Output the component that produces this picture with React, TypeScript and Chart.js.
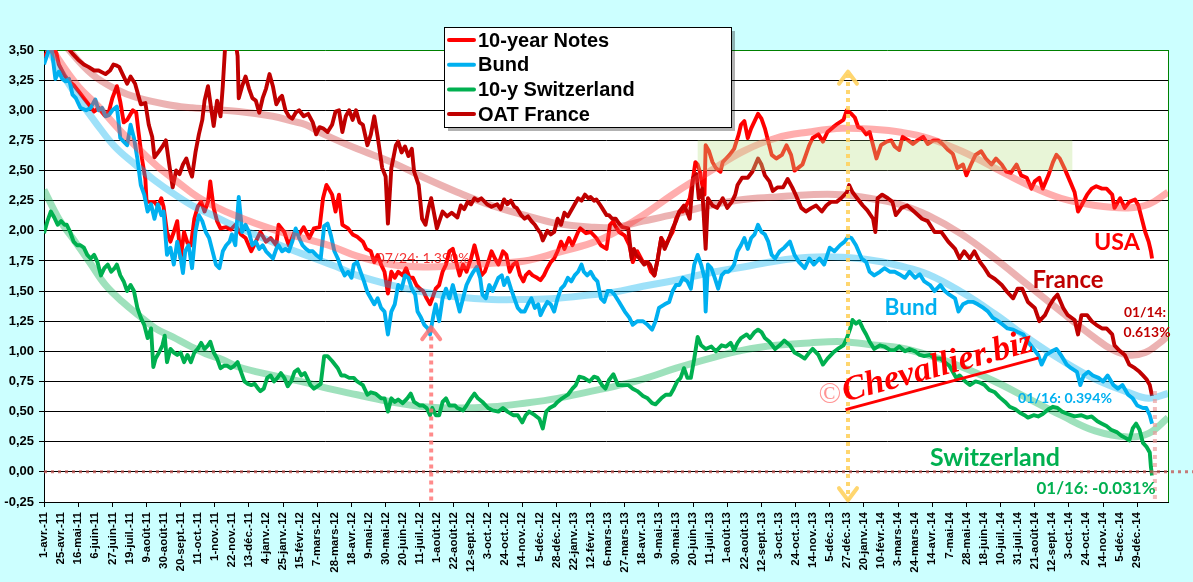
import React, { useEffect, useRef } from 'react';
import { Chart, registerables } from 'chart.js';

Chart.register(...registerables);

// ---- tick labels (one every 15 trading days, index 0 = 1 April 2011) ----
const tickLabels = ['1-avr.-11','25-avr.-11','16-mai-11','6-juin-11','27-juin-11','19-juil.-11','9-août-11','30-août-11','20-sept.-11','11-oct.-11','1-nov.-11','22-nov.-11','13-déc.-11','4-janv.-12','25-janv.-12','15-févr.-12','7-mars-12','28-mars-12','18-avr.-12','9-mai-12','30-mai-12','20-juin-12','11-juil.-12','1-août-12','22-août-12','12-sept.-12','3-oct.-12','24-oct.-12','14-nov.-12','5-déc.-12','28-déc.-12','22-janv.-13','12-févr.-13','6-mars-13','27-mars-13','18-avr.-13','9-mai-13','30-mai-13','20-juin-13','11-juil.-13','1-août-13','22-août-13','12-sept.-13','3-oct.-13','24-oct.-13','14-nov.-13','5-déc.-13','27-déc.-13','20-janv.-14','10-févr.-14','3-mars-14','24-mars-14','14-avr.-14','7-mai-14','28-mai-14','18-juin-14','10-juil.-14','31-juil.-14','21-août-14','12-sept.-14','3-oct.-14','24-oct.-14','14-nov.-14','5-déc.-14','29-déc.-14'];
const yTicks = [-0.25, 0, 0.25, 0.5, 0.75, 1, 1.25, 1.5, 1.75, 2, 2.25, 2.5, 2.75, 3, 3.25, 3.5];

// ---- series: [trading-day index, yield %] ----
const usaSeries = [[0,3.44],[4,3.5],[8,3.53],[11,3.47],[13,3.38],[18,3.29],[22,3.24],[26,3.21],[31,3.15],[35,3.1],[40,3.04],[44,2.99],[48,3.02],[53,2.96],[57,2.99],[60,3.1],[64,3.2],[67,3.07],[70,2.9],[73,2.92],[78,3.0],[81,2.98],[83,2.82],[86,2.6],[89,2.43],[90,2.25],[92,2.24],[97,2.24],[100,2.2],[103,2.27],[105,2.2],[108,1.99],[111,1.91],[114,1.99],[117,2.08],[120,1.77],[123,1.99],[126,1.9],[129,1.88],[132,2.1],[135,2.2],[138,2.24],[141,2.16],[144,2.24],[146,2.41],[149,2.19],[152,2.08],[155,2.02],[160,2.03],[164,2.01],[168,2.05],[173,1.97],[177,1.94],[182,1.83],[186,1.91],[190,1.99],[195,1.91],[199,1.94],[204,1.88],[206,2.05],[211,1.99],[215,1.88],[220,1.99],[224,1.97],[228,2.03],[233,1.94],[237,2.02],[242,2.03],[245,2.27],[248,2.38],[250,2.35],[253,2.3],[256,2.16],[259,2.3],[262,2.05],[267,2.02],[271,1.97],[275,1.95],[280,1.91],[283,1.85],[287,1.83],[290,1.74],[293,1.8],[296,1.72],[299,1.66],[302,1.48],[305,1.66],[308,1.61],[311,1.66],[315,1.63],[318,1.69],[321,1.61],[324,1.61],[327,1.55],[330,1.52],[333,1.5],[336,1.44],[339,1.39],[341,1.44],[344,1.52],[347,1.55],[350,1.66],[353,1.72],[356,1.83],[359,1.85],[362,1.74],[365,1.63],[368,1.72],[371,1.66],[375,1.77],[378,1.88],[381,1.77],[384,1.63],[387,1.66],[390,1.74],[393,1.83],[396,1.77],[399,1.72],[403,1.83],[406,1.8],[409,1.66],[412,1.72],[415,1.74],[418,1.63],[421,1.58],[423,1.63],[426,1.66],[429,1.63],[433,1.61],[436,1.59],[439,1.63],[442,1.69],[445,1.74],[448,1.77],[451,1.83],[454,1.91],[457,1.85],[461,1.94],[464,1.88],[469,1.99],[471,2.02],[476,1.98],[480,1.99],[485,1.94],[489,1.88],[494,1.85],[497,2.05],[500,2.08],[501,2.05],[505,1.99],[510,1.96],[514,1.88],[517,1.74],[521,1.83],[526,1.74],[530,1.74],[533,1.66],[536,1.63],[539,1.77],[542,1.94],[546,1.88],[549,1.94],[552,1.99],[555,2.1],[558,2.16],[561,2.16],[564,2.21],[567,2.27],[570,2.44],[572,2.57],[574,2.55],[576,2.49],[578,2.38],[580,2.3],[581,2.71],[584,2.66],[587,2.57],[590,2.52],[594,2.49],[596,2.57],[599,2.6],[602,2.63],[606,2.68],[610,2.8],[612,2.88],[615,2.91],[618,2.77],[621,2.85],[624,2.91],[627,2.97],[630,2.93],[633,2.85],[636,2.74],[639,2.63],[643,2.6],[648,2.63],[652,2.71],[656,2.63],[659,2.5],[662,2.52],[666,2.55],[669,2.63],[672,2.71],[675,2.77],[680,2.8],[684,2.74],[688,2.82],[693,2.86],[697,2.89],[702,2.92],[705,3.0],[709,2.97],[712,2.94],[715,2.86],[718,2.85],[722,2.8],[725,2.82],[728,2.71],[731,2.6],[735,2.71],[740,2.74],[744,2.75],[747,2.7],[751,2.67],[754,2.78],[759,2.75],[763,2.72],[767,2.75],[772,2.78],[776,2.72],[781,2.75],[785,2.75],[789,2.72],[794,2.67],[798,2.64],[802,2.52],[807,2.55],[810,2.46],[814,2.55],[818,2.63],[823,2.66],[827,2.6],[832,2.55],[836,2.6],[841,2.55],[845,2.49],[849,2.48],[854,2.55],[858,2.46],[863,2.44],[867,2.35],[870,2.41],[874,2.44],[877,2.35],[882,2.46],[886,2.57],[889,2.63],[892,2.6],[896,2.52],[901,2.41],[905,2.32],[908,2.16],[911,2.21],[916,2.3],[920,2.35],[924,2.37],[929,2.35],[933,2.35],[938,2.3],[940,2.19],[945,2.27],[949,2.19],[953,2.24],[958,2.26],[961,2.21],[964,2.1],[967,1.99],[970,1.91],[972,1.83],[973,1.77]];

const bundSeries = [[0,3.38],[4,3.49],[7,3.49],[10,3.26],[13,3.32],[16,3.26],[19,3.24],[22,3.26],[25,3.13],[28,3.1],[32,3.02],[37,3.0],[41,3.02],[45,3.09],[48,3.0],[51,3.02],[54,2.95],[57,2.96],[60,3.0],[64,3.03],[67,2.77],[70,2.74],[73,2.71],[76,2.88],[79,2.77],[82,2.6],[85,2.38],[88,2.3],[91,2.16],[94,2.22],[97,2.1],[100,2.22],[103,2.13],[105,2.16],[108,1.8],[111,1.86],[114,1.72],[117,1.91],[120,1.77],[122,1.65],[124,1.83],[127,1.88],[130,1.69],[133,1.99],[136,2.13],[139,2.08],[142,1.99],[145,1.94],[148,1.83],[151,1.72],[154,1.69],[157,1.83],[160,1.88],[163,1.91],[165,1.97],[168,1.88],[171,2.28],[174,1.99],[177,2.05],[180,1.99],[183,1.88],[186,1.91],[189,1.85],[192,1.88],[195,1.83],[198,1.8],[201,1.77],[204,1.85],[206,1.88],[209,1.83],[212,1.85],[215,1.83],[218,1.91],[221,2.02],[224,1.94],[227,1.88],[230,1.85],[233,1.83],[236,1.83],[239,1.8],[243,1.77],[246,2.04],[249,2.06],[252,1.96],[255,1.83],[258,1.77],[261,1.69],[264,1.63],[267,1.66],[270,1.61],[272,1.72],[275,1.74],[278,1.66],[281,1.58],[284,1.49],[287,1.44],[290,1.39],[293,1.44],[296,1.36],[299,1.33],[302,1.14],[305,1.33],[308,1.39],[311,1.55],[314,1.52],[317,1.63],[320,1.61],[323,1.52],[326,1.47],[328,1.33],[331,1.28],[334,1.22],[337,1.19],[339,1.14],[342,1.3],[344,1.39],[347,1.25],[350,1.44],[353,1.52],[356,1.44],[359,1.55],[362,1.44],[365,1.33],[368,1.44],[371,1.55],[374,1.61],[377,1.66],[380,1.7],[383,1.61],[385,1.47],[388,1.44],[391,1.55],[394,1.5],[399,1.61],[402,1.63],[404,1.55],[407,1.61],[410,1.52],[413,1.44],[416,1.36],[419,1.33],[422,1.33],[425,1.39],[428,1.44],[431,1.36],[434,1.39],[436,1.3],[439,1.36],[442,1.41],[445,1.39],[448,1.33],[451,1.44],[454,1.52],[457,1.55],[460,1.61],[463,1.58],[466,1.63],[469,1.66],[472,1.72],[474,1.66],[477,1.63],[480,1.66],[483,1.61],[486,1.58],[489,1.44],[492,1.41],[495,1.5],[498,1.5],[501,1.47],[505,1.41],[510,1.33],[514,1.28],[517,1.22],[521,1.25],[526,1.25],[530,1.22],[534,1.18],[537,1.25],[540,1.36],[545,1.39],[549,1.41],[552,1.5],[555,1.55],[558,1.55],[561,1.61],[565,1.58],[568,1.52],[571,1.72],[574,1.8],[577,1.72],[580,1.61],[581,1.33],[583,1.72],[586,1.69],[589,1.61],[592,1.52],[595,1.63],[598,1.66],[601,1.66],[604,1.69],[606,1.72],[609,1.83],[612,1.88],[615,1.94],[618,1.85],[621,1.94],[624,1.97],[627,2.05],[630,1.99],[633,1.97],[636,1.91],[639,1.8],[642,1.77],[646,1.83],[650,1.86],[655,1.91],[659,1.8],[663,1.74],[668,1.69],[672,1.77],[676,1.72],[681,1.77],[685,1.72],[690,1.86],[694,1.83],[699,1.88],[703,1.91],[706,1.95],[709,1.94],[713,1.88],[718,1.77],[722,1.74],[725,1.66],[729,1.63],[734,1.66],[738,1.69],[743,1.66],[747,1.66],[751,1.64],[756,1.61],[760,1.66],[765,1.61],[769,1.64],[773,1.58],[778,1.55],[782,1.5],[787,1.55],[791,1.5],[795,1.47],[800,1.44],[803,1.33],[807,1.39],[811,1.41],[816,1.41],[820,1.39],[825,1.36],[829,1.33],[833,1.28],[838,1.25],[842,1.22],[846,1.19],[851,1.18],[855,1.16],[860,1.14],[864,1.08],[869,1.02],[873,0.97],[876,0.89],[880,0.97],[885,1.0],[889,1.02],[893,0.97],[898,0.89],[902,0.86],[907,0.83],[910,0.72],[913,0.8],[917,0.83],[921,0.8],[926,0.78],[930,0.75],[934,0.8],[939,0.72],[943,0.69],[947,0.72],[952,0.64],[956,0.61],[960,0.55],[965,0.53],[968,0.53],[971,0.47],[973,0.4]];

const swissSeries = [[0,1.98],[3,2.08],[6,2.16],[9,2.11],[12,2.05],[15,2.08],[18,2.05],[20,2.05],[23,1.99],[26,1.91],[29,1.88],[32,1.88],[35,1.86],[38,1.8],[41,1.77],[44,1.8],[47,1.74],[50,1.63],[53,1.69],[56,1.72],[59,1.66],[62,1.69],[64,1.72],[67,1.63],[70,1.58],[73,1.5],[76,1.55],[79,1.5],[82,1.36],[85,1.28],[88,1.22],[91,1.11],[94,1.19],[96,0.87],[98,0.94],[101,0.99],[104,1.05],[106,1.13],[108,0.91],[111,1.02],[114,0.99],[117,0.97],[120,0.99],[123,0.91],[126,0.97],[129,0.91],[132,0.99],[135,1.02],[138,1.07],[141,1.02],[144,1.05],[146,1.08],[149,0.99],[152,0.94],[155,0.86],[158,0.88],[161,0.88],[164,0.86],[167,0.88],[170,0.91],[173,0.83],[176,0.75],[179,0.73],[182,0.72],[185,0.73],[188,0.69],[190,0.67],[193,0.69],[196,0.78],[199,0.8],[202,0.75],[205,0.78],[208,0.82],[211,0.78],[214,0.71],[217,0.75],[220,0.83],[223,0.85],[226,0.8],[229,0.82],[231,0.78],[234,0.72],[237,0.69],[240,0.71],[243,0.73],[246,0.96],[249,0.96],[253,0.92],[258,0.86],[261,0.8],[264,0.8],[268,0.78],[272,0.78],[275,0.75],[280,0.72],[284,0.64],[287,0.66],[291,0.65],[296,0.61],[299,0.61],[302,0.5],[305,0.61],[308,0.58],[311,0.6],[315,0.57],[319,0.61],[322,0.65],[325,0.58],[330,0.55],[333,0.55],[336,0.53],[339,0.47],[341,0.53],[344,0.47],[347,0.47],[350,0.58],[353,0.61],[356,0.55],[361,0.55],[363,0.53],[368,0.51],[371,0.55],[375,0.61],[378,0.65],[381,0.61],[385,0.58],[390,0.53],[394,0.51],[399,0.5],[403,0.53],[407,0.5],[412,0.47],[416,0.47],[420,0.41],[423,0.47],[426,0.5],[431,0.47],[435,0.44],[438,0.36],[441,0.5],[444,0.53],[448,0.55],[451,0.58],[455,0.61],[460,0.64],[464,0.69],[467,0.72],[470,0.79],[474,0.78],[479,0.75],[483,0.79],[486,0.78],[490,0.72],[493,0.69],[496,0.76],[500,0.81],[504,0.72],[508,0.72],[513,0.72],[517,0.69],[521,0.67],[526,0.63],[530,0.61],[534,0.57],[537,0.56],[542,0.61],[546,0.64],[550,0.64],[553,0.69],[556,0.75],[559,0.78],[562,0.86],[565,0.78],[568,0.78],[571,0.94],[574,1.12],[577,1.05],[581,1.02],[586,1.04],[590,1.0],[595,1.05],[599,1.04],[603,1.07],[606,1.01],[609,1.07],[612,1.11],[617,1.14],[620,1.11],[624,1.16],[627,1.18],[630,1.16],[633,1.11],[637,1.08],[642,1.02],[646,1.05],[650,1.09],[655,1.05],[659,0.99],[663,0.97],[668,0.94],[672,0.99],[675,1.02],[680,0.97],[684,0.89],[688,0.94],[693,0.99],[697,1.02],[702,1.05],[705,1.11],[708,1.19],[710,1.26],[713,1.23],[716,1.25],[719,1.19],[722,1.14],[725,1.08],[729,1.02],[734,1.05],[738,1.04],[743,1.01],[747,1.01],[751,1.04],[756,1.0],[760,1.02],[765,1.0],[769,0.97],[773,0.96],[778,0.97],[782,0.94],[787,0.94],[791,0.91],[795,0.88],[798,0.83],[801,0.78],[804,0.8],[809,0.75],[813,0.72],[818,0.75],[822,0.74],[826,0.72],[830,0.68],[835,0.66],[839,0.62],[844,0.58],[848,0.54],[853,0.52],[857,0.49],[861,0.47],[864,0.45],[869,0.47],[873,0.46],[877,0.48],[882,0.52],[886,0.54],[890,0.53],[894,0.5],[899,0.48],[905,0.46],[911,0.47],[916,0.45],[920,0.46],[925,0.42],[929,0.4],[933,0.38],[937,0.35],[942,0.33],[946,0.3],[950,0.28],[953,0.26],[956,0.36],[959,0.4],[962,0.35],[965,0.24],[968,0.21],[971,0.16],[972,0.04],[973,-0.031]];

const oatSeries = [[0,3.62],[5,3.66],[10,3.62],[15,3.6],[20,3.53],[25,3.47],[30,3.42],[35,3.38],[39,3.36],[44,3.33],[48,3.33],[54,3.3],[58,3.33],[61,3.38],[64,3.37],[66,3.36],[69,3.3],[73,3.22],[76,3.28],[80,3.22],[85,3.05],[89,3.06],[92,2.88],[95,2.78],[97,2.61],[101,2.66],[104,2.7],[107,2.75],[110,2.55],[113,2.36],[116,2.5],[119,2.47],[122,2.55],[125,2.6],[128,2.5],[130,2.45],[133,2.65],[136,2.8],[139,2.92],[141,3.08],[144,3.2],[147,3.0],[149,2.87],[152,3.08],[155,2.95],[157,3.2],[159,3.52],[162,3.6],[165,3.55],[168,3.58],[170,3.45],[171,3.1],[174,3.2],[177,3.28],[180,3.18],[183,3.1],[186,3.08],[189,2.98],[192,3.1],[195,3.18],[198,3.3],[201,3.2],[204,3.05],[207,3.1],[209,3.12],[212,3.0],[215,2.95],[218,2.93],[221,2.98],[224,3.0],[228,2.95],[232,2.97],[236,2.9],[239,2.8],[242,2.86],[245,2.85],[249,2.82],[253,2.88],[256,2.99],[259,3.0],[262,2.82],[265,2.95],[268,3.0],[271,2.92],[274,3.0],[277,2.9],[280,2.88],[284,2.71],[287,2.8],[290,2.95],[293,2.78],[297,2.52],[300,2.45],[302,2.06],[305,2.52],[309,2.71],[311,2.74],[314,2.65],[317,2.7],[320,2.62],[323,2.68],[325,2.49],[329,2.38],[332,2.1],[335,2.05],[338,2.2],[340,2.27],[343,2.12],[345,2.02],[350,2.16],[354,2.12],[358,2.15],[363,2.11],[366,2.21],[369,2.18],[372,2.24],[375,2.22],[378,2.27],[381,2.25],[384,2.27],[389,2.22],[393,2.2],[398,2.22],[401,2.18],[404,2.26],[407,2.22],[410,2.25],[413,2.2],[415,2.19],[419,2.13],[422,2.1],[425,2.12],[428,2.08],[431,2.05],[433,2.02],[436,1.98],[438,1.92],[442,2.0],[445,1.97],[448,1.99],[451,2.1],[454,2.05],[457,2.15],[460,2.12],[463,2.17],[466,2.22],[469,2.27],[472,2.25],[475,2.3],[478,2.27],[480,2.28],[483,2.25],[485,2.26],[488,2.22],[490,2.19],[494,2.13],[496,2.13],[499,2.1],[502,2.1],[505,2.06],[508,2.03],[513,2.02],[516,1.77],[518,1.85],[520,1.8],[523,1.77],[527,1.72],[530,1.74],[532,1.72],[536,1.63],[539,1.77],[542,1.94],[545,1.85],[549,1.94],[552,2.02],[555,2.08],[558,2.16],[562,2.21],[565,2.15],[567,2.1],[570,2.44],[573,2.47],[575,2.27],[578,2.35],[581,1.85],[583,2.27],[587,2.21],[591,2.19],[596,2.27],[600,2.19],[604,2.24],[607,2.3],[609,2.38],[613,2.44],[618,2.44],[622,2.49],[627,2.6],[630,2.55],[633,2.46],[637,2.41],[640,2.33],[644,2.36],[649,2.36],[653,2.43],[657,2.36],[660,2.3],[665,2.19],[669,2.16],[674,2.19],[678,2.21],[683,2.16],[687,2.21],[691,2.24],[696,2.24],[700,2.27],[705,2.32],[707,2.38],[710,2.32],[714,2.27],[719,2.21],[723,2.17],[728,2.1],[730,1.99],[732,2.27],[736,2.3],[741,2.27],[745,2.24],[748,2.13],[753,2.19],[758,2.21],[764,2.16],[771,2.1],[776,2.08],[782,1.99],[788,1.99],[794,1.91],[800,1.85],[804,1.77],[808,1.83],[813,1.77],[817,1.83],[822,1.74],[826,1.69],[830,1.63],[835,1.6],[841,1.55],[846,1.49],[851,1.44],[855,1.52],[859,1.52],[864,1.41],[870,1.36],[874,1.25],[879,1.3],[883,1.38],[887,1.44],[890,1.47],[895,1.36],[899,1.3],[905,1.26],[908,1.14],[911,1.3],[916,1.3],[920,1.25],[924,1.22],[929,1.19],[933,1.19],[938,1.14],[940,1.05],[945,1.0],[949,0.97],[953,0.89],[958,0.86],[962,0.83],[965,0.8],[968,0.77],[971,0.72],[973,0.63]];

// ---- polynomial trend lines ----
const usaTrend = [[0,3.62],[13,3.42],[30,3.2],[48,3.03],[65,2.85],[83,2.68],[100,2.53],[118,2.4],[135,2.28],[155,2.18],[175,2.1],[195,2.03],[215,1.97],[235,1.92],[253,1.87],[275,1.79],[305,1.72],[334,1.7],[363,1.71],[393,1.73],[422,1.75],[451,1.82],[481,1.9],[500,1.98],[526,2.13],[555,2.32],[584,2.49],[614,2.66],[643,2.77],[672,2.82],[701,2.85],[731,2.84],[751,2.82],[776,2.77],[806,2.66],[835,2.52],[864,2.38],[893,2.27],[923,2.21],[952,2.19],[970,2.22],[987,2.32]];
const bundTrend = [[0,3.58],[13,3.35],[30,3.1],[46,2.89],[62,2.7],[80,2.55],[97,2.42],[115,2.3],[132,2.2],[150,2.12],[165,2.05],[185,1.97],[210,1.87],[235,1.78],[260,1.69],[275,1.63],[305,1.55],[334,1.49],[363,1.45],[393,1.43],[422,1.43],[451,1.44],[481,1.47],[500,1.49],[526,1.54],[555,1.59],[584,1.65],[614,1.7],[643,1.75],[672,1.78],[701,1.78],[731,1.75],[751,1.71],[776,1.64],[806,1.49],[835,1.31],[864,1.11],[893,0.93],[923,0.77],[952,0.66],[970,0.61],[987,0.65]];
const swissTrend = [[0,2.34],[13,2.1],[25,1.94],[40,1.74],[54,1.55],[69,1.41],[83,1.3],[98,1.19],[113,1.12],[127,1.05],[142,0.98],[157,0.93],[171,0.87],[201,0.8],[230,0.74],[250,0.69],[275,0.64],[305,0.58],[334,0.54],[363,0.53],[393,0.54],[422,0.57],[451,0.61],[481,0.67],[501,0.71],[526,0.77],[555,0.86],[584,0.94],[614,1.01],[643,1.05],[672,1.07],[701,1.08],[731,1.05],[751,1.03],[776,0.97],[806,0.87],[835,0.75],[864,0.61],[893,0.47],[923,0.34],[952,0.29],[970,0.32],[987,0.45]];
const oatTrend = [[0,3.75],[22,3.5],[42,3.3],[62,3.18],[83,3.1],[113,3.04],[130,3.02],[171,2.99],[201,2.95],[218,2.91],[230,2.88],[246,2.8],[275,2.68],[305,2.57],[334,2.44],[363,2.32],[393,2.21],[422,2.13],[451,2.06],[481,2.03],[501,2.03],[526,2.08],[555,2.14],[584,2.21],[614,2.26],[643,2.28],[672,2.3],[701,2.3],[731,2.26],[751,2.22],[776,2.13],[806,1.97],[835,1.77],[864,1.55],[893,1.33],[923,1.11],[937,1.02],[952,0.97],[967,0.99],[981,1.08],[987,1.13]];

const X_MAX = 987;
const AXIS_FONT = '"Liberation Sans", Arial, sans-serif';
const NOTE_FONT = 'Lato, "Noto Sans", sans-serif';

const toXY = (arr: number[][]) => arr.map(([x, y]) => ({ x, y }));

function fitText(ctx: any, text: string, cx: number, cy: number, width: number, color: string, weight = 'bold', family = NOTE_FONT, style = '') {
  ctx.font = `${style} ${weight} 100px ${family}`;
  const w = ctx.measureText(text).width || 1;
  const size = (100 * width) / w;
  ctx.font = `${style} ${weight} ${size}px ${family}`;
  ctx.fillStyle = color;
  ctx.textAlign = 'center';
  ctx.textBaseline = 'middle';
  ctx.fillText(text, cx, cy);
}

function dotted(ctx: any, x1: number, y1: number, x2: number, y2: number, color: string, width: number, dash: number[]) {
  ctx.save();
  ctx.strokeStyle = color;
  ctx.lineWidth = width;
  ctx.setLineDash(dash);
  ctx.beginPath();
  ctx.moveTo(x1, y1);
  ctx.lineTo(x2, y2);
  ctx.stroke();
  ctx.restore();
}

function chevron(ctx: any, x: number, tipY: number, dir: number, color: string) {
  // dir = 1 : pointing up, dir = -1 : pointing down
  ctx.save();
  ctx.strokeStyle = color;
  ctx.lineWidth = 4;
  ctx.lineCap = 'round';
  ctx.lineJoin = 'round';
  ctx.beginPath();
  ctx.moveTo(x - 9, tipY + dir * 12);
  ctx.lineTo(x, tipY);
  ctx.lineTo(x + 9, tipY + dir * 12);
  ctx.stroke();
  ctx.restore();
}

export default function App() {
  const ref = useRef<HTMLCanvasElement>(null);

  useEffect(() => {
    document.body.style.margin = '0';
    const canvas = ref.current;
    if (!canvas) return;

    const bgPlugin = {
      id: 'bgPlugin',
      beforeDraw(chart: any) {
        const { ctx, chartArea: a } = chart;
        ctx.save();
        ctx.fillStyle = '#CCFFFF';
        ctx.fillRect(0, 0, chart.width, chart.height);
        ctx.fillStyle = '#FFFFFF';
        ctx.fillRect(a.left, a.top, a.right - a.left, a.bottom - a.top);
        ctx.restore();
      },
      beforeDatasetsDraw(chart: any) {
        const { ctx, scales } = chart;
        const px = (i: number) => scales.x.getPixelForValue(i);
        const py = (v: number) => scales.y.getPixelForValue(v);
        ctx.save();
        fitText(ctx, '07/24: 1.390%', px(332.8), py(1.774), 93, 'rgba(240,0,0,0.8)', 'normal');
        ctx.restore();
      },
      afterDatasetsDraw(chart: any) {
        const { ctx, scales, chartArea: a } = chart;
        const px = (i: number) => scales.x.getPixelForValue(i);
        const py = (v: number) => scales.y.getPixelForValue(v);
        ctx.save();
        // shaded band
        ctx.fillStyle = 'rgba(190,225,140,0.35)';
        ctx.fillRect(px(574), py(2.75), px(903) - px(574), py(2.5) - py(2.75));
        // right border
        ctx.strokeStyle = '#008000';
        ctx.lineWidth = 1;
        ctx.beginPath();
        ctx.moveTo(Math.round(a.right) + 0.5, a.top);
        ctx.lineTo(Math.round(a.right) + 0.5, a.bottom);
        ctx.stroke();
        // zero line
        dotted(ctx, a.left, py(0), chart.width, py(0), 'rgba(192,80,77,0.75)', 3, [3, 4]);
        // yellow double arrow
        const yx = px(706);
        dotted(ctx, yx, py(3.3), yx, py(-0.24), 'rgba(255,210,95,0.9)', 4, [4, 4]);
        chevron(ctx, yx, py(3.32), 1, 'rgba(255,210,95,0.9)');
        chevron(ctx, yx, py(-0.235), -1, 'rgba(255,210,95,0.9)');
        // pink arrow at 07/24
        const rx = px(340);
        dotted(ctx, rx, py(1.19), rx, a.bottom, 'rgba(255,110,110,0.8)', 4, [4, 4]);
        chevron(ctx, rx, py(1.2), 1, 'rgba(255,110,110,0.8)');
        // end marker
        dotted(ctx, px(975.5), py(0.67), px(975.5), a.bottom, 'rgba(235,150,150,0.65)', 4, [4, 4]);
        // labels
        fitText(ctx, 'USA', px(942.2), py(1.899), 46, '#FF0000');
        fitText(ctx, 'France', px(899.2), py(1.592), 71, '#C00000');
        fitText(ctx, 'Bund', px(761.3), py(1.359), 53, '#00B0F0');
        fitText(ctx, 'Switzerland', px(835.1), py(0.115), 130, '#00B050');
        fitText(ctx, '01/14:', px(966.8), py(1.318), 42, '#C00000');
        fitText(ctx, '0.613%', px(968.6), py(1.152), 47, '#C00000');
        fitText(ctx, '01/16: 0.394%', px(896.6), py(0.613), 94, '#00B0F0');
        fitText(ctx, '01/16: -0.031%', px(923.8), py(-0.142), 119, '#00B050');
        // watermark
        ctx.save();
        ctx.translate(px(786.8), py(0.795));
        ctx.rotate((-15 * Math.PI) / 180);
        ctx.font = 'italic bold 100px "Liberation Serif", "DejaVu Serif", serif';
        const ww = ctx.measureText('Chevallier.biz').width || 1;
        const fs = (100 * 196) / ww;
        ctx.font = `italic bold ${fs}px "Liberation Serif", "DejaVu Serif", serif`;
        ctx.fillStyle = '#FF0000';
        ctx.textAlign = 'center';
        ctx.textBaseline = 'alphabetic';
        ctx.fillText('Chevallier.biz', 0, 0);
        ctx.strokeStyle = '#FF0000';
        ctx.lineWidth = 3;
        ctx.beginPath();
        ctx.moveTo(-100, 8);
        ctx.lineTo(100, 8);
        ctx.stroke();
        ctx.restore();
        ctx.font = '30px "Liberation Serif", serif';
        ctx.fillStyle = 'rgba(255,60,60,0.55)';
        ctx.textAlign = 'center';
        ctx.textBaseline = 'middle';
        ctx.fillText('©', px(690), py(0.64));
        ctx.restore();
      },
      afterDraw(chart: any) {
        const ctx = chart.ctx;
        const bx = 444, by = 27, bw = 287, bh = 100;
        ctx.save();
        ctx.fillStyle = 'rgba(0,0,0,0.3)';
        ctx.fillRect(bx + 4, by + 4, bw, bh);
        ctx.fillStyle = '#FFFFFF';
        ctx.fillRect(bx, by, bw, bh);
        ctx.strokeStyle = '#000000';
        ctx.lineWidth = 1;
        ctx.strokeRect(bx + 0.5, by + 0.5, bw, bh);
        const items = chart.data.datasets.filter((d: any) => d.inLegend).sort((p: any, q: any) => p.legendRank - q.legendRank);
        ctx.font = `bold 20px ${AXIS_FONT}`;
        ctx.textAlign = 'left';
        ctx.textBaseline = 'middle';
        items.forEach((d: any, k: number) => {
          const y = by + 13 + k * 24.7;
          ctx.strokeStyle = d.borderColor;
          ctx.lineWidth = 4;
          ctx.lineCap = 'round';
          ctx.beginPath();
          ctx.moveTo(bx + 5, y);
          ctx.lineTo(bx + 30, y);
          ctx.stroke();
          ctx.fillStyle = '#000000';
          ctx.fillText(d.label, bx + 34, y + 1);
        });
        ctx.restore();
      },
    };

    const mainLine = (label: string, data: number[][], color: string, order: number, rank: number) => ({
      label, data: toXY(data), borderColor: color, borderWidth: 3.9, pointRadius: 0,
      tension: 0, order, clip: 0, inLegend: true, legendRank: rank, borderJoinStyle: 'round',
    });
    const trendLine = (data: number[][], color: string) => ({
      label: '', data: toXY(data), borderColor: color, borderWidth: 7, pointRadius: 0,
      tension: 0.4, order: 0, clip: 0, inLegend: false,
    });

    const chart = new Chart(canvas, {
      type: 'line',
      data: {
        datasets: [
          trendLine(usaTrend, 'rgba(255,60,60,0.42)'),
          trendLine(bundTrend, 'rgba(0,176,240,0.38)'),
          trendLine(swissTrend, 'rgba(0,176,80,0.38)'),
          trendLine(oatTrend, 'rgba(192,0,0,0.3)'),
          mainLine('OAT France', oatSeries, '#C00000', 1, 3),
          mainLine('10-y Switzerland', swissSeries, '#00B050', 2, 2),
          mainLine('Bund', bundSeries, '#00B0F0', 3, 1),
          mainLine('10-year Notes', usaSeries, '#FF0000', 4, 0),
        ] as any,
      },
      options: {
        animation: false,
        responsive: false,
        maintainAspectRatio: false,
        events: [],
        parsing: true,
        layout: { padding: { top: 50, right: 25, left: 0, bottom: 0 } },
        plugins: { legend: { display: false }, tooltip: { enabled: false } },
        scales: {
          x: {
            type: 'linear',
            min: 0,
            max: X_MAX,
            afterFit: (s: any) => { s.height = 80; },
            afterBuildTicks: (s: any) => { s.ticks = tickLabels.map((_, k) => ({ value: k * 15 })); },
            grid: {
              display: true,
              drawOnChartArea: false,
              drawTicks: true,
              tickLength: 5,
              color: (c: any) => (c.tick && c.tick.value % 30 === 0 ? '#000000' : 'rgba(0,0,0,0)'),
            },
            border: { display: true, color: '#000000', width: 1 },
            ticks: {
              autoSkip: false,
              minRotation: 90,
              maxRotation: 90,
              padding: 5,
              color: '#000000',
              font: { family: AXIS_FONT, size: 11.5, weight: 'bold' },
              callback: (v: any) => {
                const k = Math.round(Number(v) / 15);
                return Number(v) % 15 === 0 && tickLabels[k] ? tickLabels[k] : '';
              },
            },
          },
          y: {
            type: 'linear',
            min: -0.25,
            max: 3.5,
            afterFit: (s: any) => { s.width = 44; },
            afterBuildTicks: (s: any) => { s.ticks = yTicks.map((v) => ({ value: v })); },
            grid: {
              color: (c: any) => (c.tick && Math.abs(c.tick.value - 3.5) < 1e-6 ? '#008000' : '#000000'),
              lineWidth: 1,
              tickLength: 5,
            },
            border: { display: true, color: '#000000', width: 1 },
            ticks: {
              padding: 5,
              color: '#000000',
              font: { family: AXIS_FONT, size: 13, weight: 'bold' },
              callback: (v: any) => Number(v).toFixed(2).replace('.', ','),
            },
          },
        },
      } as any,
      plugins: [bgPlugin],
    });

    return () => chart.destroy();
  }, []);

  return (
    <div style={{ width: 1193, height: 582 }}>
      <canvas ref={ref} width={1193} height={582} style={{ display: 'block' }} />
    </div>
  );
}
